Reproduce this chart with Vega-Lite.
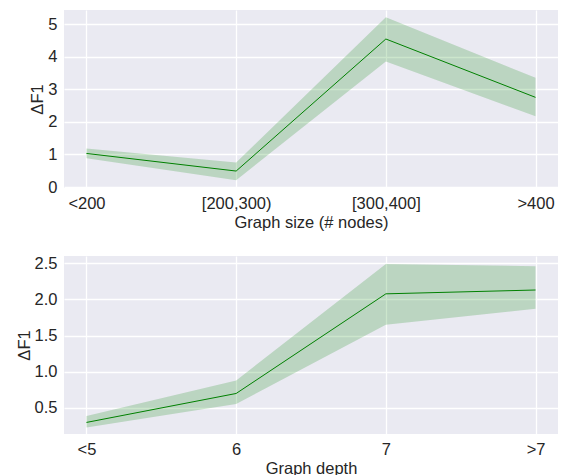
{
  "$schema": "https://vega.github.io/schema/vega-lite/v6.json",
  "padding": {"left": 16, "top": 10, "right": 4, "bottom": 0},
  "spacing": 68,
  "bounds": "flush",
  "config": {
    "font": "Liberation Sans",
    "view": {"fill": "#EAEAF2", "stroke": null},
    "axis": {
      "domain": false,
      "ticks": false,
      "grid": true,
      "gridColor": "#FFFFFF",
      "gridWidth": 1.3,
      "labelFontSize": 16.5,
      "titleFontSize": 16.5,
      "labelColor": "#262626",
      "titleColor": "#262626",
      "titleFontWeight": "normal",
      "labelFont": "Liberation Sans",
      "titleFont": "Liberation Sans",
      "labelOverlap": false,
      "labelBound": false
    },
    "axisX": {"labelPadding": 7, "titlePadding": 3, "labelAngle": 0},
    "axisY": {"labelPadding": 7, "titlePadding": 2}
  },
  "datasets": {
    "size": [
      {"cat": "<200", "mean": 1.03, "lo": 0.88, "hi": 1.18},
      {"cat": "[200,300)", "mean": 0.49, "lo": 0.21, "hi": 0.75},
      {"cat": "[300,400]", "mean": 4.54, "lo": 3.85, "hi": 5.21},
      {"cat": ">400", "mean": 2.75, "lo": 2.17, "hi": 3.35}
    ],
    "depth": [
      {"cat": "<5", "mean": 0.30, "lo": 0.23, "hi": 0.39},
      {"cat": "6", "mean": 0.70, "lo": 0.555, "hi": 0.88},
      {"cat": "7", "mean": 2.077, "lo": 1.65, "hi": 2.49},
      {"cat": ">7", "mean": 2.13, "lo": 1.87, "hi": 2.46}
    ]
  },
  "vconcat": [
    {
      "width": 494,
      "height": 178,
      "data": {"name": "size"},
      "encoding": {
        "x": {"field": "cat", "type": "ordinal", "sort": null, "scale": {"type": "point", "padding": 0.15}, "title": "Graph size (# nodes)"}
      },
      "layer": [
        {
          "mark": {"type": "area", "color": "green", "opacity": 0.2},
          "encoding": {
            "y": {"field": "lo", "type": "quantitative", "scale": {"domain": [-0.03, 5.43], "nice": false, "zero": false}, "axis": {"values": [0, 1, 2, 3, 4, 5]}, "title": "ΔF1"},
            "y2": {"field": "hi"}
          }
        },
        {
          "mark": {"type": "line", "color": "green", "strokeWidth": 1},
          "encoding": {"y": {"field": "mean", "type": "quantitative", "axis": {"values": [0, 1, 2, 3, 4, 5]}, "title": "ΔF1"}}
        }
      ]
    },
    {
      "width": 494,
      "height": 178,
      "data": {"name": "depth"},
      "encoding": {
        "x": {"field": "cat", "type": "ordinal", "sort": null, "scale": {"type": "point", "padding": 0.15}, "title": "Graph depth"}
      },
      "layer": [
        {
          "mark": {"type": "area", "color": "green", "opacity": 0.2},
          "encoding": {
            "y": {"field": "lo", "type": "quantitative", "scale": {"domain": [0.14, 2.6], "nice": false, "zero": false}, "axis": {"values": [0.5, 1.0, 1.5, 2.0, 2.5], "format": ".1f"}, "title": "ΔF1"},
            "y2": {"field": "hi"}
          }
        },
        {
          "mark": {"type": "line", "color": "green", "strokeWidth": 1},
          "encoding": {"y": {"field": "mean", "type": "quantitative", "axis": {"values": [0.5, 1.0, 1.5, 2.0, 2.5], "format": ".1f"}, "title": "ΔF1"}}
        }
      ]
    }
  ]
}
